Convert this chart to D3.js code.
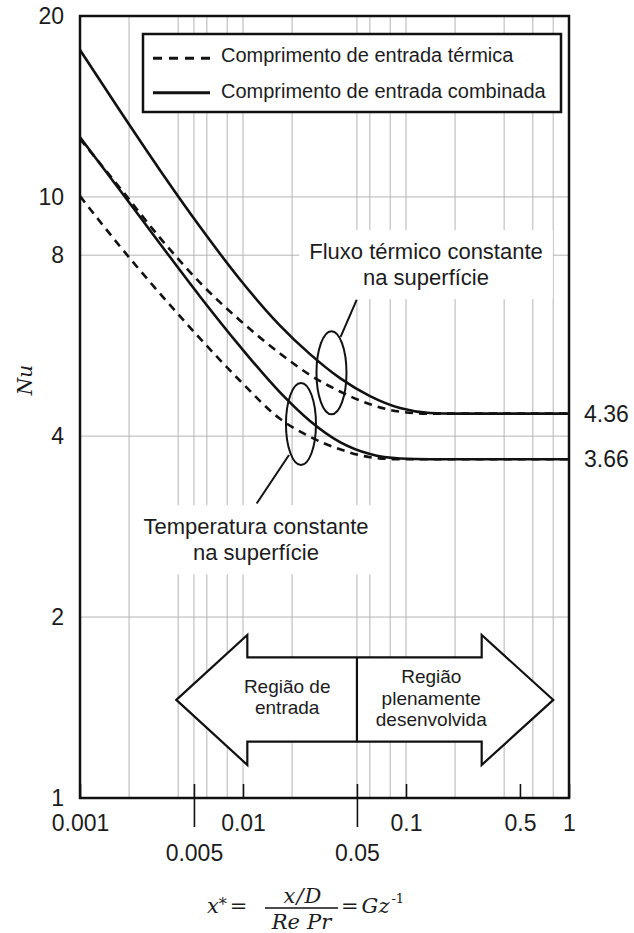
<!DOCTYPE html>
<html>
<head>
<meta charset="utf-8">
<script src="https://cdn.jsdelivr.net/npm/d3@7"></script>
<style>
  html, body { margin: 0; padding: 0; background: #fff; }
  svg { display: block; }
  text { font-family: "Liberation Sans", Arial, sans-serif; fill: #1c1c1c; }
  text.math { font-family: "DejaVu Serif", "Liberation Serif", serif; }
</style>
</head>
<body>
<svg id="chart" width="634" height="933"></svg>
<script>
// ---- Data: local Nusselt number vs. dimensionless length x* = Gz^-1 ----
// Thermal entry length, constant surface temperature
const xThermalT  = [0.001, 0.001759, 0.003096, 0.005447, 0.009585, 0.01687, 0.02576, 0.03936, 0.06013, 0.09188, 1];
const nuThermalT = [10.03, 8.275, 6.905, 5.816, 4.945, 4.274, 3.99, 3.803, 3.69, 3.66, 3.66];
// Thermal entry length, constant surface heat flux
const xThermalQ  = [0.001, 0.001759, 0.003096, 0.005447, 0.009585, 0.01687, 0.02576, 0.03936, 0.06013, 0.09188, 0.1404, 1];
const nuThermalQ = [12.49, 10.35, 8.55, 7.20, 6.23, 5.49, 5.055, 4.746, 4.52, 4.393, 4.36, 4.36];
// Combined entry length, constant surface temperature
const xCombinedT  = [0.001, 0.001759, 0.003096, 0.005447, 0.009585, 0.01687, 0.02576, 0.03936, 0.06013, 0.09188, 0.1404, 1];
const nuCombinedT = [12.57, 10.26, 8.36, 6.83, 5.64, 4.73, 4.24, 3.91, 3.735, 3.671, 3.66, 3.66];
// Combined entry length, constant surface heat flux
const xCombinedQ  = [0.001, 0.001759, 0.003096, 0.005447, 0.009585, 0.01687, 0.02576, 0.03936, 0.06013, 0.09188, 0.1404, 0.2, 1];
const nuCombinedQ = [17.56, 13.91, 11.08, 8.92, 7.29, 6.11, 5.476, 4.995, 4.663, 4.454, 4.37, 4.36, 4.36];

// Fully developed values
const asymptotes = [4.36, 3.66];

// Axes: ticks, labels, grid
const yTickValues = [1, 2, 4, 8, 10, 20];
const xTicksRow1 = [0.001, 0.01, 0.1, 0.5, 1];
const xTicksRow2 = [0.005, 0.05];
const xGridValues = [0.002, 0.004, 0.005, 0.006, 0.008, 0.01, 0.02, 0.05, 0.06, 0.08, 0.1, 0.2, 0.4, 0.6, 0.8];
const yGridValues = [2, 4, 8, 10];

const legendLabels = ["Comprimento de entrada térmica", "Comprimento de entrada combinada"];
const noteFlux = ["Fluxo térmico constante", "na superfície"];
const noteTemp = ["Temperatura constante", "na superfície"];
const regionEntry = ["Região de", "entrada"];
const regionDeveloped = ["Região", "plenamente", "desenvolvida"];

// ---- Layout ----
const svg = d3.select("#chart");
const x = d3.scaleLog().domain([0.001, 1]).range([80, 569]);
const y = d3.scaleLog().domain([1, 20]).range([798, 16]);
const INK = "#111";
const GRID = "#b4b4b4";

// grid
const grid = svg.append("g");
grid.selectAll("line.v").data(xGridValues).join("line")
  .attr("class", "v")
  .attr("x1", d => x(d)).attr("x2", d => x(d))
  .attr("y1", y(20)).attr("y2", y(1))
  .attr("stroke", GRID).attr("stroke-width", 1);
grid.selectAll("line.h").data(yGridValues).join("line")
  .attr("class", "h")
  .attr("x1", x(0.001)).attr("x2", x(1))
  .attr("y1", d => y(d)).attr("y2", d => y(d))
  .attr("stroke", GRID).attr("stroke-width", 1);

// entry / fully developed region arrow
const arrowX = { tipL: 0.0039, headL: 0.01063, split: 0.05, headR: 0.2913, tipR: 0.8012 };
const arrowNu = { headTop: 1.867, shaftTop: 1.714, mid: 1.456, shaftBot: 1.241, headBot: 1.135 };
const arrowPts = [
  [arrowX.tipL, arrowNu.mid], [arrowX.headL, arrowNu.headTop], [arrowX.headL, arrowNu.shaftTop],
  [arrowX.headR, arrowNu.shaftTop], [arrowX.headR, arrowNu.headTop], [arrowX.tipR, arrowNu.mid],
  [arrowX.headR, arrowNu.headBot], [arrowX.headR, arrowNu.shaftBot], [arrowX.headL, arrowNu.shaftBot],
  [arrowX.headL, arrowNu.headBot]
];
svg.append("polygon")
  .attr("points", arrowPts.map(p => [x(p[0]), y(p[1])].join(",")).join(" "))
  .attr("fill", "#fff").attr("stroke", INK).attr("stroke-width", 2.2).attr("stroke-linejoin", "miter");
svg.append("line")
  .attr("x1", x(arrowX.split)).attr("x2", x(arrowX.split))
  .attr("y1", y(arrowNu.shaftTop)).attr("y2", y(arrowNu.shaftBot))
  .attr("stroke", INK).attr("stroke-width", 2.2);

function textBlock(lines, xv, nuv, size, lead) {
  const t = svg.append("text")
    .attr("x", x(xv)).attr("y", y(nuv))
    .attr("text-anchor", "middle").style("font-size", size + "px");
  lines.forEach((l, i) => t.append("tspan").attr("x", x(xv)).attr("dy", i ? lead : 0).text(l));
  return t;
}
textBlock(regionEntry, 0.01867, 1.497, 19, 21.6);
textBlock(regionDeveloped, 0.1429, 1.551, 19, 21.5);

// annotation labels on white backing
function note(lines, xv, nuv) {
  const g = svg.append("g");
  const t = g.append("text")
    .attr("x", x(xv)).attr("y", y(nuv))
    .attr("text-anchor", "middle").style("font-size", "22px");
  lines.forEach((l, i) => t.append("tspan").attr("x", x(xv)).attr("dy", i ? 26 : 0).text(l));
  const b = t.node().getBBox();
  g.insert("rect", "text")
    .attr("x", b.x - 10).attr("y", b.y - 9)
    .attr("width", b.width + 20).attr("height", b.height + 18)
    .attr("fill", "#fff");
}
note(noteFlux, 0.1327, 7.88);
note(noteTemp, 0.01202, 2.746);

// legend
const legend = svg.append("g").attr("transform", "translate(143,34)");
legend.append("rect").attr("width", 418).attr("height", 78)
  .attr("fill", "#fff").attr("stroke", INK).attr("stroke-width", 2.5);
legendLabels.forEach((lab, i) => {
  const cy = i ? 58.7 : 24.3;
  legend.append("line").attr("x1", 10).attr("x2", 67).attr("y1", cy).attr("y2", cy)
    .attr("stroke", INK).attr("stroke-width", 3)
    .attr("stroke-dasharray", i ? null : "9,7");
  legend.append("text").attr("x", 78).attr("y", i ? 64.3 : 27.7)
    .style("font-size", "20px").text(lab);
});

// curves
const line = d3.line().x(d => x(d[0])).y(d => y(d[1])).curve(d3.curveMonotoneX);
const curves = [
  { xs: xThermalT, nus: nuThermalT, dash: "8,6" },
  { xs: xThermalQ, nus: nuThermalQ, dash: "8,6" },
  { xs: xCombinedT, nus: nuCombinedT, dash: null },
  { xs: xCombinedQ, nus: nuCombinedQ, dash: null }
];
curves.forEach(c => {
  svg.append("path")
    .datum(c.xs.map((v, i) => [v, c.nus[i]]))
    .attr("d", line)
    .attr("fill", "none").attr("stroke", INK).attr("stroke-width", 2.6)
    .attr("stroke-dasharray", c.dash);
});

// ellipses grouping each pair of curves, with leader lines to the labels
const ellipses = [
  { cx: 0.0349, cnu: 5.10, rx: 15, ry: 41.5, from: [0.0397, 5.85], to: [0.0498, 6.74] },
  { cx: 0.02268, cnu: 4.19, rx: 15, ry: 41, from: [0.01915, 3.72], to: [0.01213, 3.09] }
];
ellipses.forEach(e => {
  svg.append("ellipse")
    .attr("cx", x(e.cx)).attr("cy", y(e.cnu)).attr("rx", e.rx).attr("ry", e.ry)
    .attr("fill", "none").attr("stroke", INK).attr("stroke-width", 2);
  svg.append("line")
    .attr("x1", x(e.from[0])).attr("y1", y(e.from[1]))
    .attr("x2", x(e.to[0])).attr("y2", y(e.to[1]))
    .attr("stroke", INK).attr("stroke-width", 2);
});

// frame
svg.append("rect")
  .attr("x", x(0.001)).attr("y", y(20))
  .attr("width", x(1) - x(0.001)).attr("height", y(1) - y(20))
  .attr("fill", "none").attr("stroke", INK).attr("stroke-width", 2.5);

// y axis
const yAxis = svg.append("g").attr("transform", `translate(${x(0.001)},0)`)
  .call(d3.axisLeft(y).tickValues(yTickValues).tickFormat(d => String(d)).tickSize(0).tickPadding(16));
yAxis.select(".domain").remove();
yAxis.selectAll("text").style("font-size", "23px").attr("font-family", null).attr("fill", "#1c1c1c");

// x axis, first row of labels (short inward ticks)
const xAxis1 = svg.append("g").attr("transform", `translate(0,${y(1)})`)
  .call(d3.axisBottom(x).tickValues(xTicksRow1).tickFormat(d => String(d)).tickSizeInner(-14).tickSizeOuter(0).tickPadding(17));
xAxis1.select(".domain").remove();
xAxis1.selectAll("line").attr("stroke", INK).attr("stroke-width", 1.6);
xAxis1.selectAll("text").style("font-size", "23px").attr("font-family", null).attr("fill", "#1c1c1c");

// x axis, second row of labels (ticks crossing the axis)
const xAxis2 = svg.append("g").attr("transform", `translate(0,${y(1)})`)
  .call(d3.axisBottom(x).tickValues(xTicksRow2).tickFormat(d => String(d)).tickSizeInner(29).tickSizeOuter(0).tickPadding(18));
xAxis2.select(".domain").remove();
xAxis2.selectAll("line").attr("y1", -14).attr("stroke", INK).attr("stroke-width", 1.6);
xAxis2.selectAll("text").style("font-size", "23px").attr("font-family", null).attr("fill", "#1c1c1c");

// fully developed values on the right
svg.append("g").selectAll("text").data(asymptotes).join("text")
  .attr("x", x(1) + 15).attr("y", d => y(d)).attr("dy", "0.35em")
  .style("font-size", "23px").text(d => d.toFixed(2));

// axis titles
svg.append("text").attr("class", "math")
  .attr("transform", "translate(25,380) rotate(-90)")
  .attr("text-anchor", "middle").attr("dy", "0.35em")
  .style("font-size", "20px").style("font-style", "italic").text("Nu");

const f = svg.append("g");
const lhs = f.append("text").attr("class", "math").attr("x", 207).attr("y", 913).style("font-size", "21px");
lhs.append("tspan").style("font-style", "italic").text("x");
lhs.append("tspan").attr("dy", -3).style("font-size", "16px").text("*");
lhs.append("tspan").attr("dy", 3).attr("dx", 3).text("=");
const num = f.append("text").attr("class", "math").attr("x", 302.5).attr("y", 903)
  .attr("text-anchor", "middle").style("font-size", "21px").style("font-style", "italic");
num.append("tspan").text("x");
num.append("tspan").attr("dx", 1).text("/");
num.append("tspan").attr("dx", 1).text("D");
f.append("line").attr("x1", 265).attr("x2", 338).attr("y1", 908).attr("y2", 908)
  .attr("stroke", INK).attr("stroke-width", 1.3);
const den = f.append("text").attr("class", "math").attr("x", 301.5).attr("y", 929)
  .attr("text-anchor", "middle").style("font-size", "21px").style("font-style", "italic");
den.append("tspan").text("Re");
den.append("tspan").attr("dx", 7).text("Pr");
const rhs = f.append("text").attr("class", "math").attr("x", 341).attr("y", 913).style("font-size", "21px");
rhs.append("tspan").text("=");
rhs.append("tspan").attr("dx", 3).style("font-style", "italic").text("Gz");
rhs.append("tspan").attr("dy", -10).attr("dx", 2).style("font-size", "13px").text("-1");
</script>
</body>
</html>
